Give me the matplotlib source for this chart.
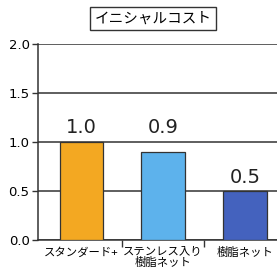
import matplotlib
matplotlib.use("Agg")
import matplotlib.pyplot as plt
import numpy as np

plt.rcParams['font.family'] = ['Noto Sans CJK JP', 'DejaVu Sans']

# data
categories = ['スタンダード+', 'ステンレス入り\n樹脂ネット', '樹脂ネット']
values = [1.0, 0.9, 0.5]
value_labels = ['1.0', '0.9', '0.5']
colors = ['#F3A822', '#5DB2EC', '#4462BE']
title = 'イニシャルコスト'

fig = plt.figure(figsize=(2.77, 2.80), dpi=100)
ax = fig.add_axes([0.137, 0.143, 0.88, 0.70])

x = np.arange(len(categories))
ax.bar(x, values, width=0.53, color=colors, edgecolor='#333333', linewidth=0.9, zorder=3)

# labels above bars (the first two sit at the same height)
label_y = np.maximum(values, 1.0) + 0.15
label_y[2] = values[2] + 0.14
for xi, ly, t in zip(x, label_y, value_labels):
    ax.text(xi, ly, t, ha='center', va='center', fontsize=14, color='#222222',
            family=['DejaVu Sans'])

ax.set_ylim(0, 2.0)
ax.set_xlim(-0.53, 2.45)
ax.set_yticks([0.0, 0.5, 1.0, 1.5, 2.0])
ax.set_yticklabels(['0.0', '0.5', '1.0', '1.5', '2.0'], family=['DejaVu Sans'])
ax.yaxis.grid(True, color='#333333', linewidth=1.1, zorder=0)
ax.set_axisbelow(True)

ax.set_xticks(x)
ax.set_xticklabels(categories, fontsize=8.2, linespacing=1.05)
ax.set_xticks([0.5, 1.5], minor=True)
ax.tick_params(axis='x', which='major', length=0, pad=5)
ax.tick_params(axis='x', which='minor', length=5, width=1, color='#333333')
ax.tick_params(axis='y', length=4, width=1, color='#333333', labelsize=9.5, pad=2)

for s in ['top', 'right']:
    ax.spines[s].set_visible(False)
ax.spines['left'].set_linewidth(1.1)
ax.spines['bottom'].set_linewidth(1.1)
ax.spines['left'].set_color('#333333')
ax.spines['bottom'].set_color('#333333')

fig.text(0.552, 0.935, title, ha='center', va='center', fontsize=10.5,
         bbox=dict(boxstyle='square,pad=0.3', facecolor='white', edgecolor='#333333', linewidth=1))

fig.savefig('out.png', dpi=100)
